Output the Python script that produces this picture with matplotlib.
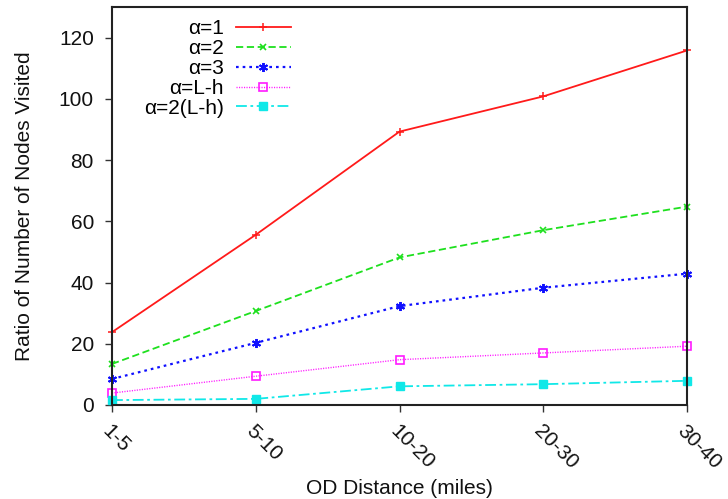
import matplotlib
matplotlib.use("Agg")
import matplotlib.pyplot as plt

categories = ["1-5", "5-10", "10-20", "20-30", "30-40"]
labels = ["α=1", "α=2", "α=3", "α=L-h", "α=2(L-h)"]
a1 = [23.8, 55.6, 89.3, 100.8, 115.8]
a2 = [13.4, 30.7, 48.2, 57.1, 64.8]
a3 = [8.5, 20.3, 32.3, 38.3, 42.9]
alh = [3.9, 9.4, 14.8, 17.0, 19.2]
a2lh = [1.6, 2.0, 6.1, 6.8, 7.9]
yticks = [0, 20, 40, 60, 80, 100, 120]

plt.rcParams['font.family'] = ['Liberation Sans', 'DejaVu Sans']

fig = plt.figure(figsize=(7.28, 4.99), dpi=100)
ax = fig.add_axes([112/728, 1 - 405/499, (687-112)/728, (405-7)/499])

x = list(range(len(categories)))
series = [a1, a2, a3, alh, a2lh]
styles = [
    dict(color='#ff1a1a', ls='-', marker='+', ms=6, mew=1.1, lw=1.3),
    dict(color='#1ee01e', ls=(0, (4, 2)), marker='x', ms=5, mew=1.2, lw=1.3),
    dict(color='#1010ff', ls=(0, (1.2, 1.8)), marker=(6, 2, 0), ms=6.5, mew=1.4, lw=1.6),
    dict(color='#ff1aff', ls=(0, (0.8, 1.0)), marker='s', ms=5.5, mfc='none', mew=1.2, lw=1.0),
    dict(color='#10e8e8', ls=(0, (6, 2, 1.5, 2)), marker='s', ms=5.5, mew=1.0, lw=1.3),
]
for y, lab, st in zip(series, labels, styles):
    ax.plot(x, y, label=lab, clip_on=False, **st)

ax.set_xlim(0, 4)
ax.set_ylim(0, 130)
ax.set_yticks(yticks)
ax.set_xticks(x)
ax.set_xticklabels(categories, rotation=-45, ha='left', va='top', rotation_mode='anchor')
ax.tick_params(axis='both', direction='out', length=5, width=1, labelsize=15, color='#333333',
               labelcolor='#111111')
ax.tick_params(axis='x', pad=7)
ax.tick_params(axis='y', pad=8)
for s in ax.spines.values():
    s.set_linewidth(1.5)
    s.set_color('#222222')

ax.set_xlabel("OD Distance (miles)", fontsize=15, labelpad=4, color='#111111')
ax.set_ylabel("Ratio of Number of Nodes Visited", fontsize=15, labelpad=18, color='#111111')

leg = ax.legend(loc='upper right', bbox_to_anchor=(0.325, 0.99), frameon=False,
                markerfirst=False, fontsize=15, handlelength=2.6,
                labelspacing=0.04, handletextpad=0.6, borderaxespad=0.0, borderpad=0.4)

fig.savefig("out.png", dpi=100)
